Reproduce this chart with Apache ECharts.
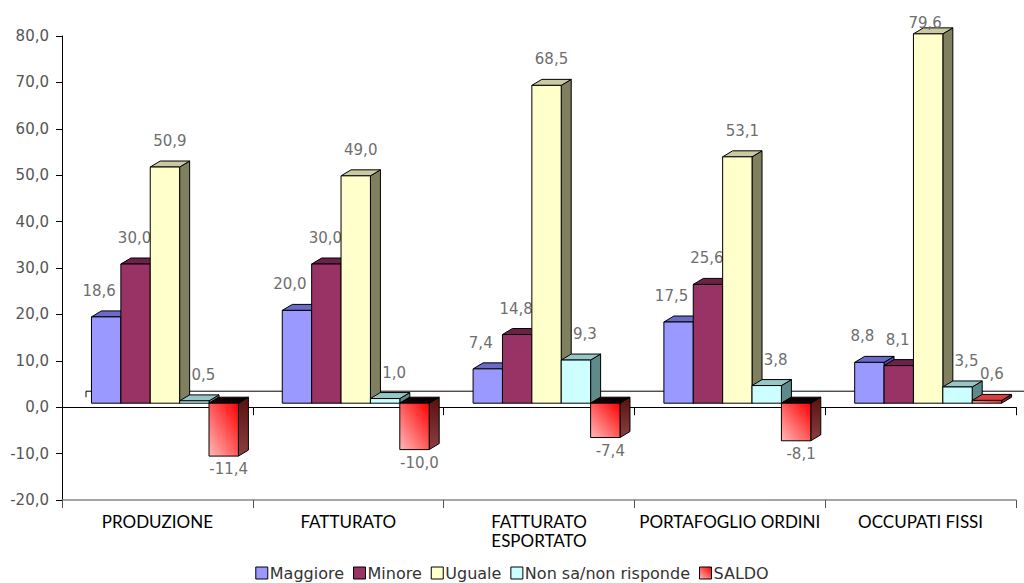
<!DOCTYPE html>
<html>
<head>
<meta charset="utf-8">
<script src="https://cdn.jsdelivr.net/npm/echarts@6/dist/echarts.min.js"></script>
<style>html,body{margin:0;padding:0;background:#fff}#c{width:1024px;height:583px}</style>
</head>
<body>
<div id="c"></div>
<script>
const categories = ['PRODUZIONE', 'FATTURATO', 'FATTURATO\nESPORTATO', 'PORTAFOGLIO ORDINI', 'OCCUPATI FISSI'];
const seriesNames = ['Maggiore', 'Minore', 'Uguale', 'Non sa/non risponde', 'SALDO'];
const maggiore = [18.6, 20.0, 7.4, 17.5, 8.8];
const minore = [30.0, 30.0, 14.8, 25.6, 8.1];
const uguale = [50.9, 49.0, 68.5, 53.1, 79.6];
const nonSa = [0.5, 1.0, 9.3, 3.8, 3.5];
const saldo = [-11.4, -10.0, -7.4, -8.1, 0.6];
const yTicks = { min: -20, max: 80, interval: 10 };

const seriesValues = [maggiore, minore, uguale, nonSa, saldo];

const saldoFront = new echarts.graphic.LinearGradient(0, 1, 1, 0, [
  { offset: 0, color: '#ffb8b8' }, { offset: 1, color: '#ff0000' }]);
const styles = [
  { front: '#9999ff', top: '#6a6ac8', side: '#4f4f9a', ldx: -12 },
  { front: '#993366', top: '#6e2049', side: '#561838', ldx: -6 },
  { front: '#ffffcc', top: '#c9c9a2', side: '#808060', ldx: 0 },
  { front: '#ccffff', top: '#98c6c6', side: '#5f8a8a', ldx: 4 },
  { front: saldoFront, topNeg: new echarts.graphic.LinearGradient(0, 0, 1, 0, [
      { offset: 0, color: '#200000' }, { offset: 1, color: '#000000' }]),
    top: '#d84040',
    side: new echarts.graphic.LinearGradient(0, 0, 0, 1, [
      { offset: 0, color: '#5a1010' }, { offset: 1, color: '#8a4040' }]), ldx: 0 }
];

const DX = 10, DY = -6, LIFT = 4;
const fmt = v => v.toFixed(1).replace('.', ',');
const LABEL_FONT = '15px "DejaVu Sans"';

function makeRender(si) {
  return function (params, api) {
    const ci = api.value(0), v = api.value(1);
    const cs = params.coordSys;
    const catW = api.size([1, 0])[0];
    const w = catW * 0.154;
    const cz = api.coord([ci, 0]);
    const cv = api.coord([ci, v]);
    const x0 = cz[0] - catW * 0.3455 + si * w;
    const x1 = x0 + w;
    const yBase = cz[1] - LIFT;
    const yVal = cv[1] - LIFT;
    const yTop = Math.min(yBase, yVal), yBot = Math.max(yBase, yVal);
    const st = styles[si];
    const topFill = (v < 0 && st.topNeg) ? st.topNeg : st.top;
    const line = { stroke: '#000', lineWidth: 1 };
    const children = [
      { type: 'polygon', shape: { points: [[x1, yTop], [x1 + DX, yTop + DY], [x1 + DX, yBot + DY], [x1, yBot]] },
        style: Object.assign({ fill: st.side }, line) },
      { type: 'polygon', shape: { points: [[x0, yTop], [x1, yTop], [x1 + DX, yTop + DY], [x0 + DX, yTop + DY]] },
        style: Object.assign({ fill: topFill }, line) },
      { type: 'rect', shape: { x: x0, y: yTop, width: w, height: yBot - yTop },
        style: Object.assign({ fill: st.front }, line) }
    ];
    const cx = (x0 + x1) / 2 + DX / 2;
    if (v >= 0) {
      const ly = Math.max(yVal + DY - 20, cs.y - 13);
      const lx = ly > yVal + DY - 20 ? cx - 8 : cx + st.ldx;
      children.push({ type: 'text', style: { text: fmt(v), x: lx, y: ly,
        align: 'center', verticalAlign: 'middle', fill: '#6e6e6e', font: LABEL_FONT } });
    } else {
      children.push({ type: 'text', style: { text: fmt(v), x: cx, y: yVal + 13,
        align: 'center', verticalAlign: 'middle', fill: '#6e6e6e', font: LABEL_FONT } });
    }
    return { type: 'group', children };
  };
}

const series = seriesValues.map((arr, si) => ({
  name: seriesNames[si],
  type: 'custom',
  renderItem: makeRender(si),
  data: arr.map((v, i) => [i, v]),
  encode: { x: 0, y: 1 },
  z: 3 + si,
  itemStyle: { color: si === 4 ? saldoFront : styles[si].front, borderColor: '#000', borderWidth: 1 }
}));

// back-wall zero line
series.unshift({
  name: 'wall', type: 'custom', silent: true, z: 1,
  data: [[0, 0]], encode: { x: 0, y: 1 },
  renderItem: function (params, api) {
    const cs = params.coordSys;
    const y = api.coord([0, 0])[1] - 16;
    return { type: 'group', children: [
      { type: 'line', shape: { x1: cs.x + 24, y1: y, x2: cs.x + cs.width + 10, y2: y }, style: { stroke: '#000', lineWidth: 1 } },
      { type: 'line', shape: { x1: cs.x + 24, y1: y, x2: cs.x + 24, y2: y + 6 }, style: { stroke: '#000', lineWidth: 1 } }
    ] };
  }
});

const chart = echarts.init(document.getElementById('c'), null, { renderer: 'svg' });
chart.setOption({
  animation: false,
  backgroundColor: '#fff',
  grid: { left: 62, right: 8, top: 36, bottom: 83 },
  legend: {
    data: seriesNames, bottom: -3, left: 'center', icon: 'rect',
    itemWidth: 12, itemHeight: 12, itemGap: 9,
    itemStyle: { borderColor: '#000', borderWidth: 1 },
    textStyle: { fontFamily: 'DejaVu Sans', fontSize: 16, color: '#333', padding: [0, 0, 0, -3] }
  },
  xAxis: [
    { type: 'category', data: categories, position: 'bottom',
      axisLine: { onZero: false, lineStyle: { color: '#888', width: 1.5 } },
      axisTick: { show: true, interval: 0, length: 8, lineStyle: { color: '#555' } },
      axisLabel: { interval: 0, color: '#000', fontFamily: 'Lato', fontSize: 17, margin: 12, lineHeight: 19 } },
    { type: 'category', data: categories, position: 'bottom',
      axisLine: { onZero: true, lineStyle: { color: '#000', width: 1 } },
      axisTick: { show: true, interval: 0, length: 8, lineStyle: { color: '#000' } },
      axisLabel: { show: false } }
  ],
  yAxis: {
    type: 'value', min: yTicks.min, max: yTicks.max, interval: yTicks.interval,
    axisLine: { show: true, onZero: false, lineStyle: { color: '#000' } },
    axisTick: { show: true, length: 6, lineStyle: { color: '#000' } },
    splitLine: { show: false },
    axisLabel: { color: '#555', fontFamily: 'DejaVu Sans', fontSize: 15, margin: 13, formatter: v => fmt(v) }
  },
  series
});
</script>
</body>
</html>
